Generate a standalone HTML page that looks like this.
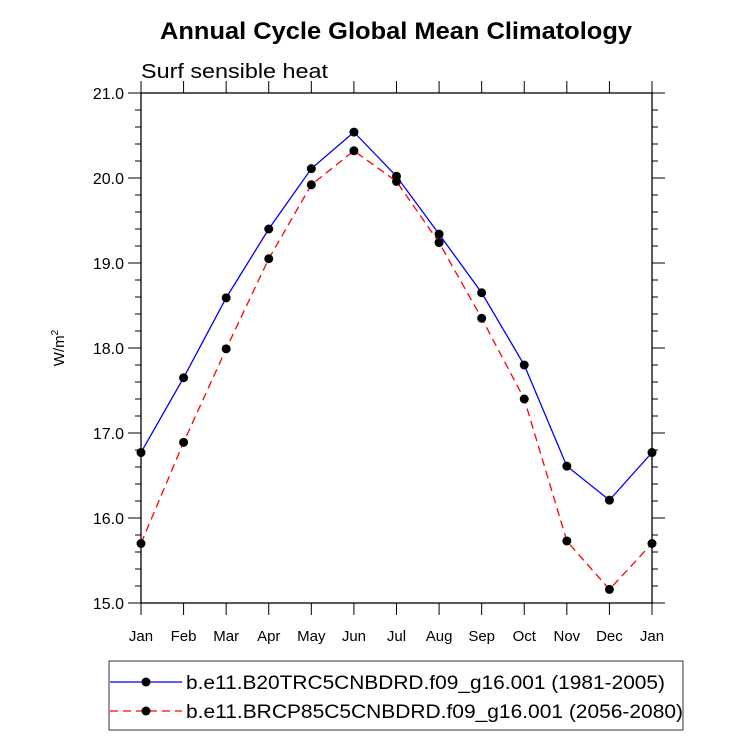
<!DOCTYPE html>
<html><head><meta charset="utf-8"><style>body{margin:0;background:#fff}svg{display:block;font-family:"Liberation Sans",sans-serif}</style></head>
<body>
<svg id="chart" width="733" height="751">
<text x="160" y="39" font-size="24" font-weight="bold" textLength="472" lengthAdjust="spacingAndGlyphs">Annual Cycle Global Mean Climatology</text>
<text x="141" y="78" font-size="20" textLength="187" lengthAdjust="spacingAndGlyphs">Surf sensible heat</text>
<text transform="translate(64,348) rotate(-90)" text-anchor="middle" font-size="15">W/m<tspan dy="-6" font-size="10">2</tspan></text>
<g id="axes"></g><g id="series"></g>
<g>
<rect x="109" y="661" width="574" height="69" fill="#fff" stroke="#333" stroke-width="1"/>
<line x1="110" y1="682" x2="182" y2="682" stroke="blue" stroke-width="1.3"/><circle cx="146" cy="682" r="4.5"/>
<text x="186" y="689" font-size="19" textLength="479" lengthAdjust="spacingAndGlyphs">b.e11.B20TRC5CNBDRD.f09_g16.001 (1981-2005)</text>
<line x1="110" y1="711" x2="182" y2="711" stroke="red" stroke-width="1.3" stroke-dasharray="8,5"/><circle cx="146" cy="711" r="4.5"/>
<text x="186" y="718" font-size="19" textLength="497" lengthAdjust="spacingAndGlyphs">b.e11.BRCP85C5CNBDRD.f09_g16.001 (2056-2080)</text>
</g>
</svg>
<script>
const months=["Jan","Feb","Mar","Apr","May","Jun","Jul","Aug","Sep","Oct","Nov","Dec","Jan"];
const histValues=[16.77,17.65,18.59,19.40,20.11,20.54,20.02,19.34,18.65,17.80,16.61,16.21,16.77];
const rcpValues=[15.70,16.89,17.99,19.05,19.92,20.32,19.96,19.24,18.35,17.40,15.73,15.16,15.70];
const yTicks=[15,16,17,18,19,20,21];
const X0=141,X1=652,Y0=603,Y1=93,YMIN=15,YMAX=21;
const x=i=>X0+(X1-X0)*i/12;
const y=v=>Y0-(v-YMIN)/(YMAX-YMIN)*(Y0-Y1);
const NS="http://www.w3.org/2000/svg";
function mk(tag,attrs,parent){const e=document.createElementNS(NS,tag);for(const k in attrs)e.setAttribute(k,attrs[k]);parent.appendChild(e);return e;}
const ax=document.getElementById('axes');
const frame=mk('rect',{x:X0,y:Y1,width:X1-X0,height:Y0-Y1,fill:'none',stroke:'#000','stroke-width':1.3},ax);


for(let v=YMIN;v<=YMAX+1e-9;v+=0.2){
  const major=Math.abs(v-Math.round(v))<1e-6, L=major?13:6, yy=y(v);
  mk('line',{x1:X0-L,y1:yy,x2:X0,y2:yy,stroke:'#000','stroke-width':1},ax);
  mk('line',{x1:X1,y1:yy,x2:X1+L,y2:yy,stroke:'#000','stroke-width':1},ax);
}
yTicks.forEach(v=>{
  const t=mk('text',{x:X0-17,y:y(v)+6,'text-anchor':'end','font-size':16},ax);
  t.textContent=v.toFixed(1);
  
  
});
months.forEach((m,i)=>{
  const xx=x(i);
  mk('line',{x1:xx,y1:Y0,x2:xx,y2:Y0+12,stroke:'#000','stroke-width':1},ax);
  mk('line',{x1:xx,y1:Y1-12,x2:xx,y2:Y1,stroke:'#000','stroke-width':1},ax);
  const t=mk('text',{x:xx,y:Y0+38,'text-anchor':'middle','font-size':15},ax);
  t.textContent=m;
  
  
});
const sg=document.getElementById('series');
function drawSeries(vals,color,dash,name){
  const p=mk('polyline',{points:vals.map((v,i)=>x(i)+','+y(v)).join(' '),fill:'none',stroke:color,'stroke-width':1.3,'stroke-dasharray':dash},sg);
  
  
  vals.forEach((v,i)=>{
    const c=mk('circle',{cx:x(i),cy:y(v),r:4.5,fill:'#000'},sg);
    
    
  });
}
drawSeries(histValues,'blue','none','historical');
drawSeries(rcpValues,'red','8,5','rcp85');
</script>
</body></html>
